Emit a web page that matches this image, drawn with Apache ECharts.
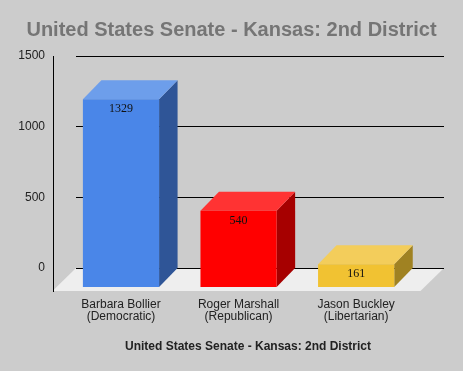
<!DOCTYPE html>
<html>
<head>
<meta charset="utf-8">
<script src="https://cdn.jsdelivr.net/npm/echarts@6/dist/echarts.min.js"></script>
<style>
html,body{margin:0;padding:0;background:#cccccc;}
#chart{width:463px;height:371px;}
</style>
</head>
<body>
<div id="chart"></div>
<script>
const chartTitle = 'United States Senate - Kansas: 2nd District';
const axisTitle = 'United States Senate - Kansas: 2nd District';
const candidates = ['Barbara Bollier', 'Roger Marshall', 'Jason Buckley'];
const parties = ['(Democratic)', '(Republican)', '(Libertarian)'];
const votes = [1329, 540, 161];
const frontColors = ['#4a86e8', '#ff0000', '#f1c232'];
const topColors = ['#6d9eeb', '#ff3333', '#f3cd5b'];
const sideColors = ['#2f5597', '#a60000', '#a08222'];
const yMin = 0, yMax = 1500, yStep = 500;
const xMin = -0.54, xMax = 2.59;

const DX = 18.5, DY = 19;       // bar depth offset
const FDX = 23.5, FDY = 23;     // floor depth offset

const chart = echarts.init(document.getElementById('chart'), null, {renderer: 'canvas'});

const barData = votes.map((v, i) => [i, v]);

function renderFloor(params, api) {
  const bl = api.coord([xMin, yMin]);
  const br = api.coord([xMax, yMin]);
  const topL = api.coord([xMin, yMax]);
  const ax = Math.round(bl[0] - FDX) + 0.5;
  return {
    type: 'group',
    children: [
      {type: 'polygon', shape: {points: [[bl[0], bl[1]], [br[0], br[1]], [br[0] - FDX, br[1] + FDY], [bl[0] - FDX, bl[1] + FDY]]},
       style: {fill: '#eeeeee'}},
      {type: 'line', shape: {x1: bl[0], y1: Math.round(bl[1]) + 0.5, x2: br[0], y2: Math.round(br[1]) + 0.5},
       style: {stroke: '#000', lineWidth: 1}},
      {type: 'line', shape: {x1: ax, y1: topL[1], x2: ax, y2: bl[1] + FDY + 1},
       style: {stroke: '#000', lineWidth: 1}}
    ]
  };
}

function renderBar(params, api) {
  const i = api.value(0), v = api.value(1);
  const idx = params.dataIndex;
  const b0 = api.coord([i, yMin]);
  const bt = api.coord([i, v]);
  const unit = api.size([1, 0])[0];
  const hw = unit * 0.324;
  const fx = b0[0] - DX;           // front centre x
  const fTop = bt[1] + DY, fBot = b0[1] + DY;
  return {
    type: 'group',
    children: [
      {type: 'polygon', shape: {points: [[fx + hw, fTop], [b0[0] + hw, bt[1]], [b0[0] + hw, b0[1]], [fx + hw, fBot]]},
       style: {fill: sideColors[idx]}},
      {type: 'polygon', shape: {points: [[fx - hw, fTop], [fx + hw, fTop], [b0[0] + hw, bt[1]], [b0[0] - hw, bt[1]]]},
       style: {fill: topColors[idx]}},
      {type: 'rect', shape: {x: fx - hw, y: fTop, width: hw * 2, height: fBot - fTop},
       style: {fill: frontColors[idx]}},
      {type: 'text', x: fx, y: fTop + 10,
       style: {text: String(v), fill: '#111', font: '12px "Liberation Serif", "Times New Roman", serif',
               align: 'center', verticalAlign: 'middle', textAlign: 'center', textVerticalAlign: 'middle'}},
      {type: 'text', x: fx, y: b0[1] + 31,
       style: {text: candidates[idx] + '\n' + parties[idx], fill: '#222', font: '12px "Liberation Sans", Arial, sans-serif',
               lineHeight: 12, align: 'center', verticalAlign: 'top', textAlign: 'center', textVerticalAlign: 'top'}}
    ]
  };
}

chart.setOption({
  backgroundColor: '#cccccc',
  animation: false,
  title: [
    {text: chartTitle, left: 'center', top: 15,
     textStyle: {fontFamily: '"Liberation Sans", Arial, sans-serif', fontSize: 20, fontWeight: 'bold', color: '#757575'}},
    {text: axisTitle, left: 243, textAlign: 'center', top: 336,
     textStyle: {fontFamily: '"Liberation Sans", Arial, sans-serif', fontSize: 12, fontWeight: 'bold', color: '#222'}}
  ],
  grid: {left: 76, right: 19, top: 56, bottom: 103, containLabel: false},
  xAxis: {type: 'value', min: xMin, max: xMax, show: false},
  yAxis: {
    type: 'value', min: yMin, max: yMax, interval: yStep,
    axisLine: {show: false}, axisTick: {show: false},
    axisLabel: {margin: 31, color: '#222', fontSize: 12, fontFamily: '"Liberation Sans", Arial, sans-serif',
                formatter: v => String(v)},
    splitLine: {lineStyle: {color: '#000', width: 1}}
  },
  series: [
    {type: 'custom', renderItem: renderFloor, data: [[0, 0]], silent: true, z: 1, clip: false},
    {type: 'custom', renderItem: renderBar, data: barData, z: 2, clip: false}
  ]
});
</script>
</body>
</html>
